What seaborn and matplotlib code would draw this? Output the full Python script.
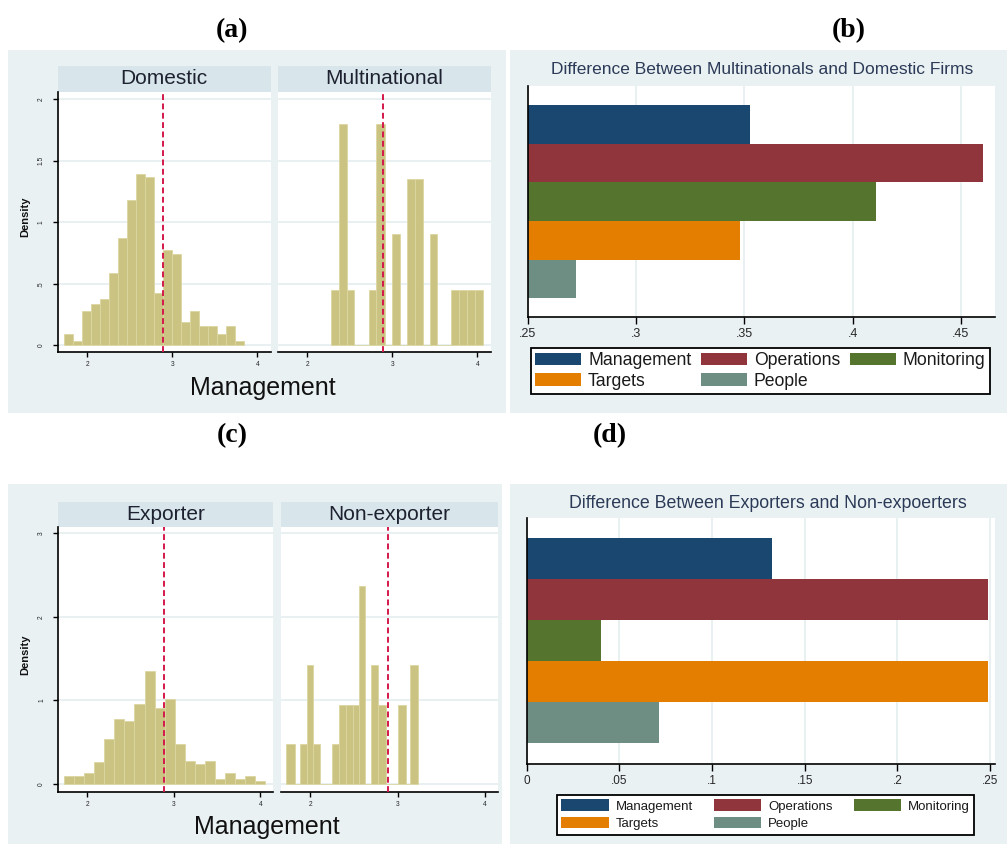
import numpy as np
import pandas as pd
import matplotlib
matplotlib.use("Agg")
import matplotlib.pyplot as plt
from matplotlib.patches import Rectangle, Patch
import seaborn as sns

# ---------------- data ----------------
# Panel (a): histograms of management score (density)
dom_edges = [1.729, 1.835, 1.940, 2.046, 2.152, 2.257, 2.363, 2.469, 2.575, 2.680, 2.786,
             2.892, 2.997, 3.103, 3.209, 3.314, 3.420, 3.526, 3.631, 3.737, 3.843]
dom_density = [0.092, 0.036, 0.279, 0.333, 0.375, 0.591, 0.869, 1.181, 1.392, 1.369,
               0.428, 0.778, 0.739, 0.186, 0.279, 0.157, 0.157, 0.092, 0.157, 0.036]
mne_edges = [2.285, 2.373, 2.467, 2.551, 2.733, 2.815, 2.910, 3.000, 3.086, 3.176,
             3.263, 3.356, 3.447, 3.529, 3.694, 3.787, 3.880, 3.973, 4.067]
mne_density = [0.45, 1.80, 0.45, 0.0, 0.45, 1.80, 0.0, 0.90, 0.0, 1.35,
               1.35, 0.0, 0.90, 0.0, 0.45, 0.45, 0.45, 0.45]
mean_a = 2.89

# Panel (c)
exp_edges = [1.731, 1.847, 1.964, 2.080, 2.196, 2.313, 2.429, 2.545, 2.662, 2.778, 2.894,
             3.010, 3.127, 3.243, 3.359, 3.476, 3.592, 3.708, 3.824, 3.941, 4.057]
exp_density = [0.096, 0.096, 0.136, 0.267, 0.535, 0.778, 0.754, 0.954, 1.357, 0.914,
               1.018, 0.475, 0.275, 0.236, 0.275, 0.056, 0.136, 0.056, 0.096, 0.036]
nonexp_edges = [1.730, 1.823, 1.884, 1.961, 2.035, 2.112, 2.250, 2.335, 2.412, 2.489,
                2.559, 2.632, 2.694, 2.778, 2.863, 3.002, 3.094, 3.144, 3.229]
nonexp_density = [0.475, 0.0, 0.475, 1.425, 0.475, 0.0, 0.475, 0.95, 0.95, 0.95,
                  2.375, 0.0, 1.425, 0.95, 0.0, 0.95, 0.0, 1.425]
mean_c = 2.89

# Panels (b) and (d): differences by practice
practices = ["Management", "Operations", "Monitoring", "Targets", "People"]
diff_mne = [0.3526, 0.4603, 0.4108, 0.3480, 0.2723]
diff_exp = [0.1322, 0.2491, 0.0399, 0.2491, 0.0716]
practice_colors = ["#1A476F", "#90353B", "#55752F", "#E37E00", "#6E8E84"]

hist_yticks_a = [0, 0.5, 1, 1.5, 2]
hist_ylabels_a = ["0", ".5", "1", "1.5", "2"]
hist_yticks_c = [0, 1, 2, 3]
hist_ylabels_c = ["0", "1", "2", "3"]
hist_xticks = [2, 3, 4]
b_xticks = [0.25, 0.30, 0.35, 0.40, 0.45]
b_xlabels = [".25", ".3", ".35", ".4", ".45"]
d_xticks = [0, 0.05, 0.10, 0.15, 0.20, 0.25]
d_xlabels = ["0", ".05", ".1", ".15", ".2", ".25"]

# ---------------- style ----------------
sns.set_theme(style="white")
plt.rcParams["font.family"] = ["Liberation Sans", "DejaVu Sans"]

W, H = 1007, 844
BG = "#EAF1F3"
STRIP = "#D8E5EB"
GRID = "#E4EDF0"
KHAKI = "#CBC382"
KHAKI_EDGE = "#DCD6A2"
MEANC = "#D3184A"
TITLEC = "#2B3A57"

fig = plt.figure(figsize=(W / 100, H / 100), dpi=100)
fig.patch.set_facecolor("white")


def rect(x0, y0, x1, y1):
    return [x0 / W, 1 - y1 / H, (x1 - x0) / W, (y1 - y0) / H]


def fx(x):
    return x / W


def fy(y):
    return 1 - y / H


# panel backgrounds
for (x0, y0, x1, y1) in [(8, 49.5, 506, 413), (510, 50, 1007, 413),
                         (8, 484, 502, 844), (510, 484, 1007, 844)]:
    fig.add_artist(Rectangle((x0 / W, 1 - y1 / H), (x1 - x0) / W, (y1 - y0) / H,
                             transform=fig.transFigure, facecolor=BG, edgecolor="none",
                             zorder=-10))

# panel labels
for lab, x, y in [("(a)", 232, 31), ("(b)", 849, 31), ("(c)", 232.5, 436), ("(d)", 610, 436)]:
    fig.text(fx(x), fy(y), lab, ha="center", va="center", fontsize=20,
             fontweight="bold", family=["Liberation Serif", "DejaVu Serif"], color="black")


def strip(box, text, size):
    s = fig.add_axes(rect(*box))
    s.set_facecolor(STRIP)
    s.set_xticks([]); s.set_yticks([])
    for sp in s.spines.values():
        sp.set_visible(False)
    s.text(0.5, 0.5, text, ha="center", va="center", fontsize=size, color="#1E2230",
           transform=s.transAxes)


def hist_panel(box, edges, dens, mean, xlim, ylim, yticks, ylabels, first):
    ax = fig.add_axes(rect(*box))
    ax.set_facecolor("white")
    e = np.asarray(edges, dtype=float)
    hdf = pd.DataFrame({"mid": (e[:-1] + e[1:]) / 2, "dens": dens})
    sns.histplot(data=hdf, x="mid", weights="dens", bins=list(edges), stat="count",
                 color=KHAKI, edgecolor=KHAKI_EDGE, linewidth=0.6, alpha=1.0, ax=ax,
                 zorder=2)
    ax.axvline(mean, color=MEANC, lw=1.4, ls=(0, (3, 1.8)), zorder=3)
    ax.set_xlim(*xlim)
    ax.set_ylim(*ylim)
    ax.set_yticks(yticks)
    ax.set_xticks(hist_xticks)
    ax.set_xticklabels([str(t) for t in hist_xticks])
    ax.yaxis.grid(True, color=GRID, lw=1.2)
    ax.xaxis.grid(False)
    ax.set_axisbelow(True)
    ax.set_xlabel(""); ax.set_ylabel("")
    for side in ["top", "right"]:
        ax.spines[side].set_visible(False)
    ax.spines["bottom"].set_color("black"); ax.spines["bottom"].set_linewidth(1.2)
    ax.tick_params(axis="x", direction="out", length=3.5, width=1, color="black",
                   labelsize=4.8, pad=3, bottom=True)
    if first:
        ax.spines["left"].set_color("black"); ax.spines["left"].set_linewidth(1.2)
        ax.set_yticklabels(ylabels)
        ax.tick_params(axis="y", direction="out", length=3.5, width=1, color="black",
                       labelsize=4.8, pad=6, labelrotation=90, left=True)
        for t in ax.get_yticklabels():
            t.set_va("center")
    else:
        ax.spines["left"].set_visible(False)
        ax.tick_params(axis="y", length=0, labelleft=False)
    return ax


# ---- panel (a)
xl_a = (1.655, 4.157)
yl_a = (-0.057, 2.06)
strip((57.7, 65.7, 270.7, 91.7), "Domestic", 15)
strip((277.7, 65.7, 490.7, 91.7), "Multinational", 15)
hist_panel((58, 91.7, 270.7, 352.3), dom_edges, dom_density, mean_a, xl_a, yl_a,
           hist_yticks_a, hist_ylabels_a, True)
hist_panel((277.7, 91.7, 490.7, 352.3), mne_edges, mne_density, mean_a, xl_a, yl_a,
           hist_yticks_a, hist_ylabels_a, False)
fig.text(fx(25), fy(217), "Density", rotation=90, ha="center", va="center",
         fontsize=8, fontweight="bold", color="#111111")
fig.text(fx(263), fy(388), "Management", ha="center", va="center", fontsize=18,
         color="#111111")

# ---- panel (c)
xl_c = (1.664, 4.15)
yl_c = (-0.092, 3.08)
strip((57.7, 501.7, 273.3, 526.7), "Exporter", 15)
strip((280.7, 501.7, 498.3, 526.7), "Non-exporter", 15)
hist_panel((58.3, 526.7, 273.3, 791.7), exp_edges, exp_density, mean_c, xl_c, yl_c,
           hist_yticks_c, hist_ylabels_c, True)
hist_panel((280.7, 526.7, 498.3, 791.7), nonexp_edges, nonexp_density, mean_c, xl_c, yl_c,
           hist_yticks_c, hist_ylabels_c, False)
fig.text(fx(25), fy(655), "Density", rotation=90, ha="center", va="center",
         fontsize=8, fontweight="bold", color="#111111")
fig.text(fx(266.7), fy(826.7), "Management", ha="center", va="center", fontsize=18,
         color="#111111")


# ---- bar panels
def bar_panel(box, values, xlim, ylim, xticks, xlabels, tick_fs, title, title_xy,
              title_fs, leg_box, leg_fs, leg_kw):
    ax = fig.add_axes(rect(*box))
    ax.set_facecolor("white")
    df = pd.DataFrame({"practice": practices, "diff": values})
    sns.barplot(data=df, y="practice", x="diff", hue="practice",
                palette=practice_colors, hue_order=practices, order=practices,
                orient="h", width=1.0, saturation=1, errorbar=None, legend=False,
                linewidth=0, ax=ax, zorder=2)
    ax.set_xlim(*xlim)
    ax.set_ylim(*ylim)
    ax.set_yticks([])
    ax.set_xticks(xticks)
    ax.set_xticklabels(xlabels)
    ax.xaxis.grid(True, color=GRID, lw=1.2)
    ax.yaxis.grid(False)
    ax.set_axisbelow(True)
    ax.set_xlabel(""); ax.set_ylabel("")
    for side in ["top", "right"]:
        ax.spines[side].set_visible(False)
    for side in ["left", "bottom"]:
        ax.spines[side].set_color("black"); ax.spines[side].set_linewidth(1.2)
    ax.tick_params(axis="x", direction="out", length=5, width=1, color="black",
                   labelsize=tick_fs, pad=3, bottom=True)
    fig.text(fx(title_xy[0]), fy(title_xy[1]), title, ha="center", va="center",
             fontsize=title_fs, color=TITLEC)
    handles = {p: Patch(facecolor=c, edgecolor="none") for p, c in zip(practices, practice_colors)}
    order = ["Management", "Targets", "Operations", "People", "Monitoring"]
    x0, y0, x1, y1 = leg_box
    leg = ax.legend([handles[o] for o in order], order,
                    bbox_to_anchor=(fx(x0), fy(y1), (x1 - x0) / W, (y1 - y0) / H),
                    bbox_transform=fig.transFigure, loc="center", mode="expand",
                    ncol=3, fontsize=leg_fs, frameon=True, fancybox=False,
                    framealpha=1, edgecolor="black", borderaxespad=0, **leg_kw)
    leg.get_frame().set_linewidth(1.3)
    for t in leg.get_texts():
        t.set_color("#1A1A1A")
    return ax


bar_panel((527.7, 86, 995, 316.7), diff_mne, (0.25, 0.4657), (4.98, -1.0),
          b_xticks, b_xlabels, 9,
          "Difference Between Multinationals and Domestic Firms", (762, 69.5), 12.5,
          (530.7, 345, 990, 396.7), 12.7,
          dict(handlelength=2.6, handleheight=0.72, handletextpad=0.4,
               labelspacing=0.2, borderpad=0.25, columnspacing=0.8))

bar_panel((526.7, 518.3, 995, 764), diff_exp, (0.0, 0.2527), (5.0, -0.99),
          d_xticks, d_xlabels, 8.5,
          "Difference Between Exporters and Non-expoerters", (767.5, 504), 12.8,
          (556.7, 793.3, 974.3, 836), 9.5,
          dict(handlelength=3.6, handleheight=1.0, handletextpad=0.5,
               labelspacing=0.3, borderpad=0.35, columnspacing=1.0))

fig.savefig("out.png", dpi=100, facecolor="white")
